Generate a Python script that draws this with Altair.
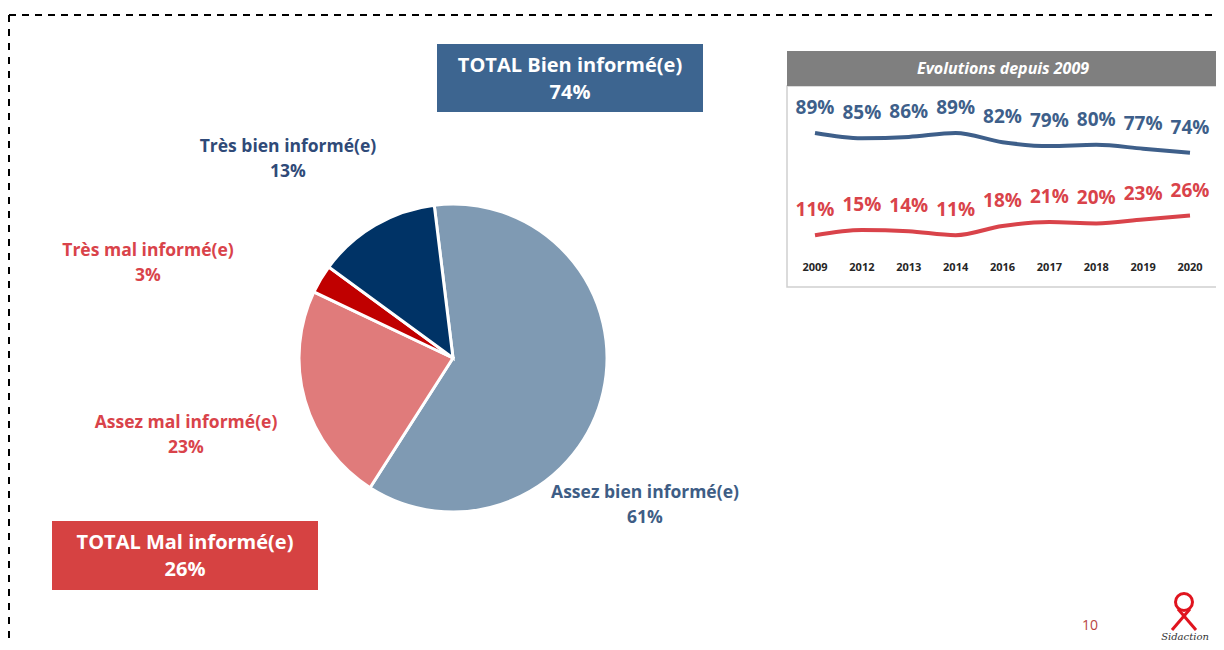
import math
import altair as alt
import pandas as pd

# ---------------- data ----------------
categories = ["Assez bien informé(e)", "Assez mal informé(e)", "Très mal informé(e)", "Très bien informé(e)"]
shares = [61, 23, 3, 13]
total_labels = ["TOTAL Bien informé(e)", "TOTAL Mal informé(e)"]
total_values = [74, 26]
years = ["2009", "2012", "2013", "2014", "2016", "2017", "2018", "2019", "2020"]
bien = [89, 85, 86, 89, 82, 79, 80, 77, 74]
mal = [11, 15, 14, 11, 18, 21, 20, 23, 26]
series_names = ["Bien informé(e)", "Mal informé(e)"]
inset_title = "Evolutions depuis 2009"
page_number = "10"
logo_text = "Sidaction"

# ---------------- styles ----------------
FONT = "Open Sans"
pie_colors = ["#7F9AB3", "#E07B7B", "#C00000", "#003366"]
label_colors = {"Assez bien informé(e)": "#3E5D85", "Assez mal informé(e)": "#D9434A",
                "Très mal informé(e)": "#D9434A", "Très bien informé(e)": "#2F4A78"}
# position of the first text line (centre)
label_pos = {"Assez bien informé(e)": (637, 485), "Assez mal informé(e)": (178, 415),
             "Très mal informé(e)": (140, 243), "Très bien informé(e)": (280, 139)}
BLUE_BOX = "#3D6590"
RED_BOX = "#D64242"
LINE_BLUE = "#3E5F8A"
LINE_RED = "#D9434A"

W, H = 1208, 634

pie_df = pd.DataFrame({"cat": categories, "value": shares, "order": list(range(len(categories)))})
tot_df = pd.DataFrame({"label": total_labels, "value": total_values})
line_df = pd.DataFrame({
    "year": years * 2,
    "series": [series_names[0]] * len(years) + [series_names[1]] * len(years),
    "value": bien + mal,
})
one = pd.DataFrame({"t": [inset_title]})
misc = pd.DataFrame({"page": [page_number], "logo": [logo_text]})

layers = []

# dashed slide border (top and left)
layers.append(alt.Chart(one).mark_rule(color="black", strokeWidth=2, strokeDash=[7, 6]).encode(
    x=alt.value(1), x2=alt.value(W), y=alt.value(7)))
layers.append(alt.Chart(one).mark_rule(color="black", strokeWidth=2, strokeDash=[7, 7]).encode(
    x=alt.value(1), y=alt.value(7), y2=alt.value(H)))

# pie
start = -7 * math.pi / 180
layers.append(alt.Chart(pie_df).mark_arc(outerRadius=154, stroke="white", strokeWidth=3).encode(
    theta=alt.Theta("value:Q", stack=True, scale=alt.Scale(range=[start, start + 2 * math.pi])),
    order=alt.Order("order:Q"),
    color=alt.Color("cat:N", scale=alt.Scale(domain=categories, range=pie_colors), legend=None),
    x=alt.value(445), y=alt.value(350),
))

# pie labels
for cat in categories:
    px, py = label_pos[cat]
    layers.append(alt.Chart(pie_df).transform_filter(alt.datum.cat == cat).transform_calculate(
        lab="datum.cat + '\\n' + datum.value + '%'"
    ).mark_text(font=FONT, fontSize=17.5, fontWeight="bold", color=label_colors[cat],
                lineBreak="\n", lineHeight=25, align="center", baseline="middle").encode(
        text="lab:N", x=alt.value(px), y=alt.value(py)))

# total boxes
boxes = [(0, BLUE_BOX, (429, 36, 695, 104), 58), (1, RED_BOX, (44, 513, 310, 582), 535)]
for idx, col, (x0, y0, x1, y1), ty in boxes:
    lbl = total_labels[idx]
    base = alt.Chart(tot_df).transform_filter(alt.datum.label == lbl)
    layers.append(base.mark_rect(color=col).encode(
        x=alt.value(x0), x2=alt.value(x1), y=alt.value(y0), y2=alt.value(y1)))
    layers.append(base.transform_calculate(lab="datum.label + '\\n' + datum.value + '%'").mark_text(
        font=FONT, fontSize=20, fontWeight="bold", color="white", lineBreak="\n", lineHeight=27,
        align="center", baseline="middle").encode(
        text="lab:N", x=alt.value((x0 + x1) / 2), y=alt.value(ty)))

# inset panel
layers.append(alt.Chart(one).mark_rect(color="white", stroke="#D0D0D0", strokeWidth=1.5).encode(
    x=alt.value(779), x2=alt.value(1210), y=alt.value(78), y2=alt.value(279)))
layers.append(alt.Chart(one).mark_rect(color="#7F7F7F").encode(
    x=alt.value(779), x2=alt.value(1212), y=alt.value(43), y2=alt.value(78)))
layers.append(alt.Chart(one).mark_text(font=FONT, fontSize=16, fontWeight="bold", fontStyle="italic",
                                       color="white", align="center", baseline="middle").encode(
    text="t:N", x=alt.value(995), y=alt.value(61)))

xs = alt.X("year:O", scale=alt.Scale(type="point", domain=years, range=[807, 1182], padding=0), axis=None)
ys = alt.Y("value:Q", scale=alt.Scale(domain=[0, 100], range=[241.6, 110.6]), axis=None)
cs = alt.Color("series:N", scale=alt.Scale(domain=series_names, range=[LINE_BLUE, LINE_RED]), legend=None)

layers.append(alt.Chart(line_df).mark_line(strokeWidth=4, interpolate="monotone").encode(x=xs, y=ys, color=cs))
layers.append(alt.Chart(line_df).transform_calculate(lab="datum.value + '%'").mark_text(
    font=FONT, fontSize=19, fontWeight="bold", dy=-25, align="center", baseline="middle").encode(
    x=xs, y=ys, color=cs, text="lab:N"))
layers.append(alt.Chart(pd.DataFrame({"year": years})).mark_text(
    font=FONT, fontSize=11, fontWeight="bold", color="#262626", baseline="middle").encode(
    x=alt.X("year:O", scale=alt.Scale(type="point", domain=years, range=[807, 1182], padding=0), axis=None),
    y=alt.value(260), text="year:N"))

# page number and logo
layers.append(alt.Chart(misc).mark_text(font=FONT, fontSize=14, color="#B8453F", align="center",
                                        baseline="middle").encode(
    text="page:N", x=alt.value(1082), y=alt.value(618)))
layers.append(alt.Chart(misc).mark_arc(color="#E0141E", innerRadius=7, outerRadius=10).encode(
    theta=alt.value(2 * math.pi), x=alt.value(1176), y=alt.value(594)))
layers.append(alt.Chart(misc).mark_rule(color="#E0141E", strokeWidth=3).encode(
    x=alt.value(1170), y=alt.value(601), x2=alt.value(1188), y2=alt.value(622)))
layers.append(alt.Chart(misc).mark_rule(color="#E0141E", strokeWidth=3).encode(
    x=alt.value(1182), y=alt.value(601), x2=alt.value(1164), y2=alt.value(622)))
layers.append(alt.Chart(misc).mark_text(font="DejaVu Serif", fontSize=10, fontStyle="italic",
                                        color="#333333", align="center", baseline="middle").encode(
    text="logo:N", x=alt.value(1177), y=alt.value(629)))

chart = alt.layer(*layers).resolve_scale(
    x="independent", y="independent", color="independent", theta="independent"
).properties(width=W, height=H, padding=0, autosize=alt.AutoSizeParams(type="none"),
             background="white").configure_view(strokeWidth=0)

chart.save("out.html", embed_options={"renderer": "svg", "actions": False})
